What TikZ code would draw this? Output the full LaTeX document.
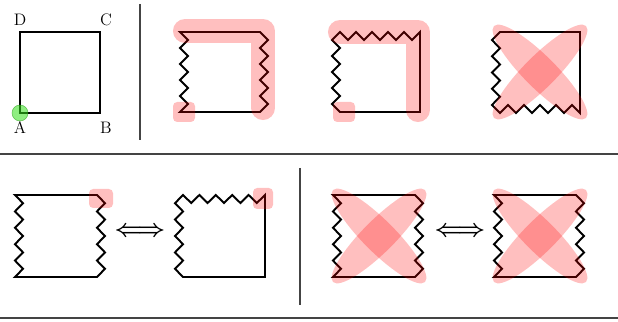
\documentclass[tikz,border=0pt]{standalone}
\usepackage{amsmath}
\usepackage{xcolor}
\definecolor{mark}{HTML}{FF0000}
\definecolor{seam}{HTML}{444444}
\definecolor{apt}{HTML}{33E01A}
% one-sided zigzag edges, ten teeth segments
\newcommand{\zigv}[4]{\foreach \k in {1,...,10}{--({#1+(#4)*8*mod(\k,2)},{(#2)+((#3)-(#2))*\k/10})}}
\newcommand{\zigh}[4]{\foreach \k in {1,...,10}{--({(#2)+((#3)-(#2))*\k/10},{#1+(#4)*8*mod(\k,2)})}}

\begin{document}
\begin{tikzpicture}[x=0.72pt,y=-0.72pt,
edge/.style={draw=black,line width=1.4pt,line join=miter},rule/.style={draw=seam,line width=0.8pt},hl/.style={fill=mark,fill opacity=0.25},band/.style={draw=mark,draw opacity=0.25,line width=17.3pt,line cap=round,line join=round},patch/.style={hl,rounded corners=3pt},lbl/.style={inner sep=1pt,font=\large},equiv/.style={font=\fontsize{16}{18}\selectfont\boldmath,inner sep=0pt}]
\useasboundingbox (0,0) rectangle (618,322);
% rules between the panels
\draw[rule] (140,4)--(140,140);
\draw[rule] (0,154)--(618,154);
\draw[rule] (300,168)--(300,305);
\draw[rule] (0,318)--(618,318);
% plain square
\draw[edge] (20,32) rectangle (100,113);
\fill[fill=apt,fill opacity=.55,draw=apt!70!black,draw opacity=.6] (20,113) circle [radius=8];
\node[lbl] (D) at (20,20) {D}; \node[lbl] (C) at (106,20) {C};
\node[lbl] (A) at (20,128) {A}; \node[lbl] (B) at (106,128) {B};
% left and right sides glued
\foreach \x/\y/\s in {180/32/80,15/195/82,333/195/82,494/195/82}{
  \draw[edge] (\x,\y)--(\x+\s,\y) \zigv{\x+\s}{\y}{\y+\s}{1} --(\x,\y+\s) \zigv{\x}{\y+\s}{\y}{1} --cycle;}
% left and top sides glued
\foreach \x/\y/\s in {340/32/80,183/195/82}{
  \draw[edge] (\x,\y) \zigh{\y}{\x}{\x+\s}{1} --(\x+\s,\y+\s)--(\x,\y+\s) \zigv{\x}{\y+\s}{\y}{-1} --cycle;}
% left and bottom sides glued
\draw[edge] (500,32)--(580,32)--(580,113) \zigh{113}{580}{500}{-1} \zigv{500}{113}{32}{-1} --cycle;
% neighbourhoods
\draw[band] (185,31)--(263,31)--(263,108);
\draw[band] (340,32)--(418,32)--(418,110);
\fill[patch] (173,102) rectangle (195,122);
\fill[patch] (333,102) rectangle (355,122);
\fill[patch] (89,189) rectangle (113,208);
\fill[patch] (253,188) rectangle (273,209);
\foreach \cx/\cy in {540/72,379/236,540/236}{
  \foreach \a in {45,-45}{\fill[hl,rotate around={\a:(\cx,\cy)}] (\cx,\cy) ellipse [x radius=65,y radius=16];}}
\node[equiv] (eqL) at (140,232) {$\Longleftrightarrow$};
\node[equiv] (eqR) at (460,232) {$\Longleftrightarrow$};
\end{tikzpicture}
\end{document}
